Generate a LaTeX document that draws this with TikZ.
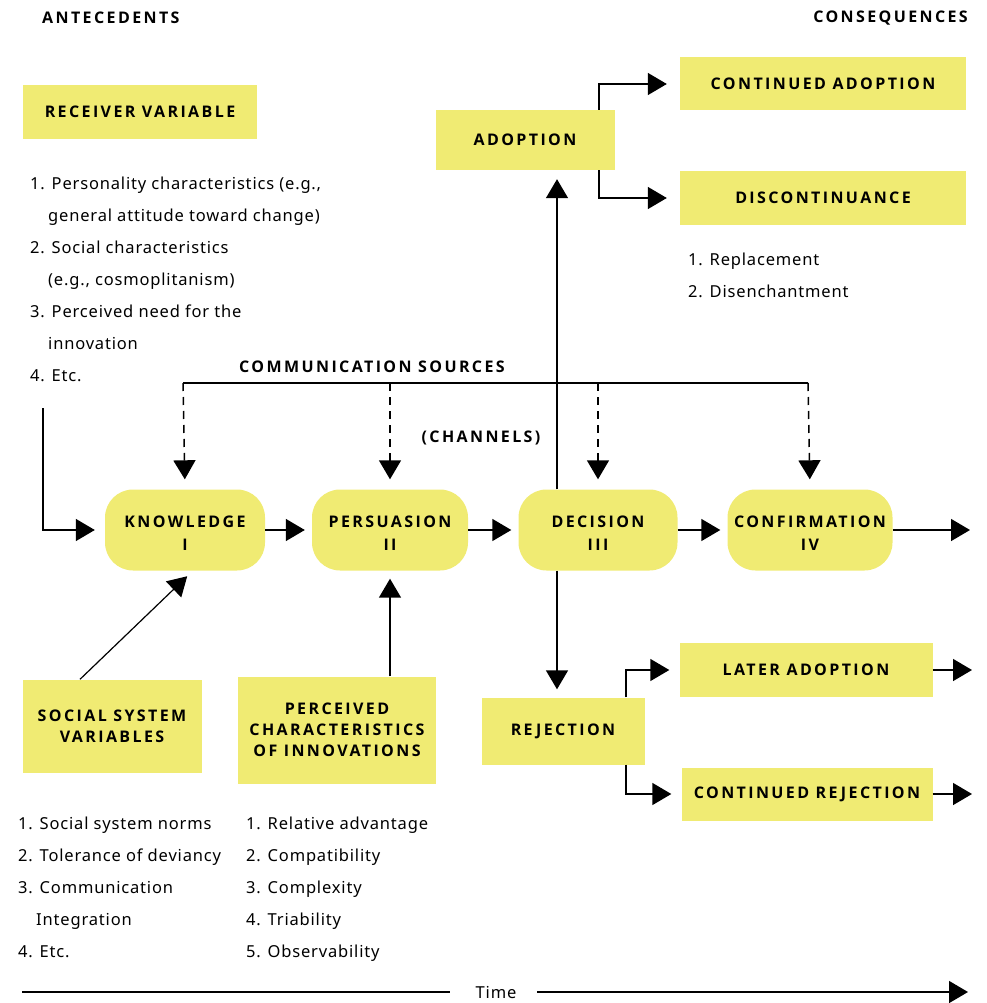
\documentclass[tikz,border=0pt]{standalone}
\usepackage{fontspec}
\setmainfont{Noto Sans}
\newfontfamily\listfont[LetterSpace=5]{Noto Sans}
\newfontfamily\capsfont[LetterSpace=15]{Open Sans}
\usepackage{tikz}
\usetikzlibrary{arrows.meta,positioning}
\usepackage{xcolor}
\definecolor{boxyellow}{RGB}{240,235,115}

\begin{document}
\begin{tikzpicture}[
  x=1pt, y=-1pt,
  box/.style 2 args={fill=boxyellow, inner sep=0pt, align=center,
                     minimum width=#1, minimum height=#2,
                     font=\capsfont\bfseries\fontsize{16}{21}\selectfont},
  stage/.style={box={#1}{81}, rounded corners=28pt,
                font=\capsfont\bfseries\fontsize{16}{23}\selectfont,
                text height=41pt, text depth=0pt},
  head/.style={inner sep=0pt, font=\capsfont\bfseries\fontsize{16}{21}\selectfont},
  items/.style={inner sep=0pt, align=left, anchor=north west,
                font=\listfont\fontsize{16.5}{32}\selectfont},
  arr/.style={line width=1.5pt, -{Triangle[length=19pt,width=22pt]}},
  dasharr/.style={arr, dash pattern=on 8pt off 6pt},
  plain/.style={line width=1.5pt}
]
  \useasboundingbox (0,0) rectangle (986,1003);

  \node[head, anchor=west] (ante) at (42,18) {ANTECEDENTS};
  \node[head, anchor=east] (cons) at (968,18) {CONSEQUENCES};

  \node[box={234}{54}] (recv) at (140,112) {RECEIVER VARIABLE};
  \node[items] (recvlist) at (30,177) {1. Personality characteristics (e.g.,\\
    \hspace*{18pt}general attitude toward change)\\
    2. Social characteristics\\
    \hspace*{18pt}(e.g., cosmoplitanism)\\
    3. Perceived need for the\\
    \hspace*{18pt}innovation\\
    4. Etc.};

  \node[stage=160] (know) at (185,530) {KNOWLEDGE\\I};
  \node[stage=156] (pers) at (390,530) {PERSUASION\\II};
  \node[stage=159] (deci) at (598,530) {DECISION\\III};
  \node[stage=165] (conf) at (810,530) {CONFIRMATION\\IV};

  \node[box={179}{60}] (adopt) at (525,140) {ADOPTION};
  \node[box={286}{53}] (contad) at (823,84) {CONTINUED ADOPTION};
  \node[box={286}{53}] (discont) at (823,198) {DISCONTINUANCE};
  \node[items] (disclist) at (688,253) {1. Replacement\\2. Disenchantment};

  \node[box={163}{67}] (rej) at (563,731) {REJECTION};
  \node[box={253}{54}] (later) at (806,670) {LATER ADOPTION};
  \node[box={251}{53}] (contrej) at (807,794) {CONTINUED REJECTION};

  \node[box={179}{93}] (social) at (112,726) {SOCIAL SYSTEM\\VARIABLES};
  \node[box={198}{107}] (perc) at (337,730) {PERCEIVED\\CHARACTERISTICS\\OF INNOVATIONS};
  \node[items] (sociallist) at (18,817) {1. Social system norms\\
    2. Tolerance of deviancy\\
    3. Communication\\
    \hspace*{18pt}Integration\\
    4. Etc.};
  \node[items] (perclist) at (246,817) {1. Relative advantage\\
    2. Compatibility\\
    3. Complexity\\
    4. Triability\\
    5. Observability};

  \node[head] (comm) at (372,367) {COMMUNICATION SOURCES};
  \node[head] (chan) at (481,438) {(CHANNELS)};
  \node[font=\listfont\fontsize{16.5}{18}\selectfont, inner sep=0pt] (time) at (496,992) {Time};

  \coordinate (recvtop) at (43,408);
  \coordinate (spine) at (557,530);
  \coordinate (csl) at (183,383);
  \coordinate (csr) at (808,383);
  \coordinate (adbr) at (599,0);
  \coordinate (rejbr) at (626,0);
  \coordinate (endc) at (970,530);
  \coordinate (timel) at (22,992);
  \coordinate (timer) at (968,992);

  \draw[arr] (recvtop) |- ([xshift=-10pt]know.west);
  \draw[arr, shorten >=7pt] (know) -- (pers);
  \draw[arr, shorten >=7pt] (pers) -- (deci);
  \draw[arr, shorten >=7pt] (deci) -- (conf);
  \draw[arr] (conf) -- (endc);

  \draw[plain] (csl) -- (csr);
  \draw[dasharr, shorten >=10pt] (csl) -- (know.north);
  \draw[dasharr, shorten >=10pt] (pers |- csl) -- (pers.north);
  \draw[dasharr, shorten >=10pt] (deci |- csl) -- (deci.north);
  \draw[dasharr, shorten >=10pt] (csr) -- (conf.north);

  \draw[arr, shorten >=9pt] (spine |- deci.north) -- (spine |- adopt.south);
  \draw[arr, shorten >=8pt] (spine |- deci.south) -- (spine |- rej.north);

  \draw[arr, shorten >=13pt] (adbr |- adopt.north) |- (contad.west);
  \draw[arr, shorten >=13pt] (adbr |- adopt.south) |- (discont.west);
  \draw[arr, shorten >=10pt] (rejbr |- rej.north) |- (later.west);
  \draw[arr, shorten >=10pt] (rejbr |- rej.south) |- (contrej.west);
  \draw[arr, shorten >=-2pt] (later.east) -- (later.east -| endc);
  \draw[arr, shorten >=-2pt] (contrej.east) -- (contrej.east -| endc);

  \draw[arr, line width=1.2pt, shorten >=8pt] ([xshift=-32pt]social.north) -- ([xshift=8pt]know.south);
  \draw[arr, shorten >=8pt] (perc.north -| pers) -- (pers.south);

  \draw[plain] (timel) -- ([xshift=-46pt]time.center);
  \draw[arr] ([xshift=41pt]time.center) -- (timer);
\end{tikzpicture}
\end{document}
